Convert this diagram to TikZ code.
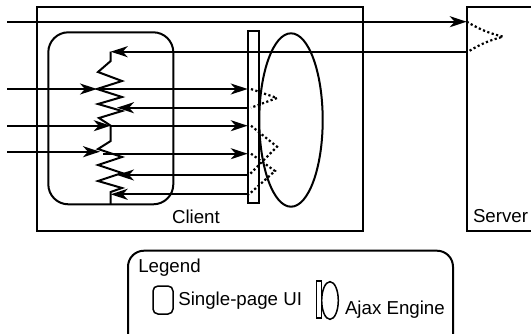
\documentclass[tikz,border=0pt]{standalone}
\usepackage{fontspec}
\setmainfont{Liberation Sans}
\usetikzlibrary{arrows.meta,shapes.geometric}
\begin{document}
\begin{tikzpicture}[x=1pt,y=-1pt,
  every node/.style={inner sep=0pt, outer sep=0pt},
  ln/.style={line width=2pt},
  arr/.style={ln, -{Stealth[length=17pt,width=11pt,inset=5pt]}},
  dots/.style={line width=2.2pt, dash pattern=on 2.2pt off 2.4pt},
  lbl/.style={font=\fontsize{18.7}{22}\selectfont, anchor=base west},
  frame/.style={draw, ln, rectangle, anchor=north west},
  thinsym/.style={draw, line width=1.5pt}
]
\useasboundingbox (0,0) rectangle (531,333);
\clip (0,0) rectangle (531,333);

% main frames
\node[frame, minimum width=326pt, minimum height=224pt] (client) at (36.7,7) {};
\node[frame, minimum width=110pt, minimum height=224pt] (server) at (466.7,7) {};
\node[draw, ln, rounded corners=20pt, minimum width=125pt, minimum height=172pt, anchor=north west] (ui) at (48.3,32.3) {};
\node[draw, ln, ellipse, minimum width=63.4pt, minimum height=173.4pt] (eng) at (291,120) {};
\node[draw, ln, fill=white, minimum width=11.3pt, minimum height=172.3pt, anchor=north west] (bar) at (247.7,30.7) {};

\node[lbl] (clientlbl) at (172,223.3) {Client};
\node[lbl] (serverlbl) at (473,222.7) {Server};

% coordinates
\coordinate (t0) at (7,21.7);
\coordinate (sin) at (466.7,21.7);
\coordinate (sout) at (466.7,51.7);
\coordinate (stip) at (503,36.7);
\coordinate (sback) at (468,51.7);
\coordinate (zt) at (110.7,51.7);
\coordinate (in1) at (7,89);
\coordinate (in2) at (7,125.7);
\coordinate (in3) at (7,151.7);
\coordinate (z1) at (97,89);
\coordinate (z2) at (110.7,125.7);
\coordinate (z3) at (100,151.7);
\coordinate (z3r) at (103,153.7);
\coordinate (zr1) at (117,107.7);
\coordinate (zr2) at (117,175);
\coordinate (zr3) at (110.7,194.3);
\coordinate (b1) at (247.7,89);
\coordinate (b2) at (247.7,125.7);
\coordinate (b3) at (247.7,153.7);
\coordinate (r1) at (247.7,107.7);
\coordinate (r2) at (247.7,175);
\coordinate (r3) at (247.7,194.3);
\coordinate (d1) at (251,89);
\coordinate (d2) at (251,125.7);
\coordinate (d3) at (251,153.7);
\coordinate (e1) at (251,107.7);
\coordinate (e2) at (249,175);
\coordinate (e3) at (249,194.3);
\coordinate (p1) at (277,98);
\coordinate (p2) at (277,146.7);
\coordinate (p3) at (275,171);

% zigzag (page content)
\draw[ln] (zt) -- (110.7,61) -- (98,72) -- (122,81) -- (z1) -- (122,97) -- (98,104)
  -- (122,111) -- (99,118) -- (z2) -- (110.7,141) -- (98,149) -- (122,157)
  -- (98,165) -- (122,173) -- (98,181) -- (122,188) -- (110.7,192) -- (110.7,204);

% arrows
\draw[arr] (t0) -- (sin);
\draw[arr] (sout) -- (zt);
\draw[arr] (in1) -- (z1);
\draw[arr] (in2) -- (z2);
\draw[arr] (in3) -- (z3);
\draw[arr] (z1) -- (b1);
\draw[arr] (z2) -- (b2);
\draw[arr] (z3r) -- (b3);
\draw[arr] (r1) -- (zr1);
\draw[arr] (r2) -- (zr2);
\draw[arr] (r3) -- (zr3);

% dotted processing
\draw[dots] (d1) -- (p1) -- (e1);
\draw[dots] (d2) -- (p2) -- (e2);
\draw[dots] (d3) -- (p3) -- (e3);
\draw[dots] (sin) to[bend right=8] (stip) to[bend right=8] (sback);

% legend
\node[draw, ln, rounded corners=16pt, minimum width=325pt, minimum height=110pt, anchor=north west] (legend) at (128,250.7) {};
\node[lbl] (legendlbl) at (138.3,272) {Legend};
\node[thinsym, rounded corners=5pt, minimum width=20pt, minimum height=28pt, anchor=north west] (lui) at (153,286) {};
\node[lbl] (luilbl) at (178.3,305) {Single-page UI};
\node[thinsym, ellipse, minimum width=16.6pt, minimum height=37.6pt] (leng) at (330,300.5) {};
\node[thinsym, fill=white, line width=1.2pt, minimum width=5pt, minimum height=37pt, anchor=north west] (lbar) at (316.7,281) {};
\node[lbl] (lenglbl) at (345,314) {Ajax Engine};
\end{tikzpicture}
\end{document}
